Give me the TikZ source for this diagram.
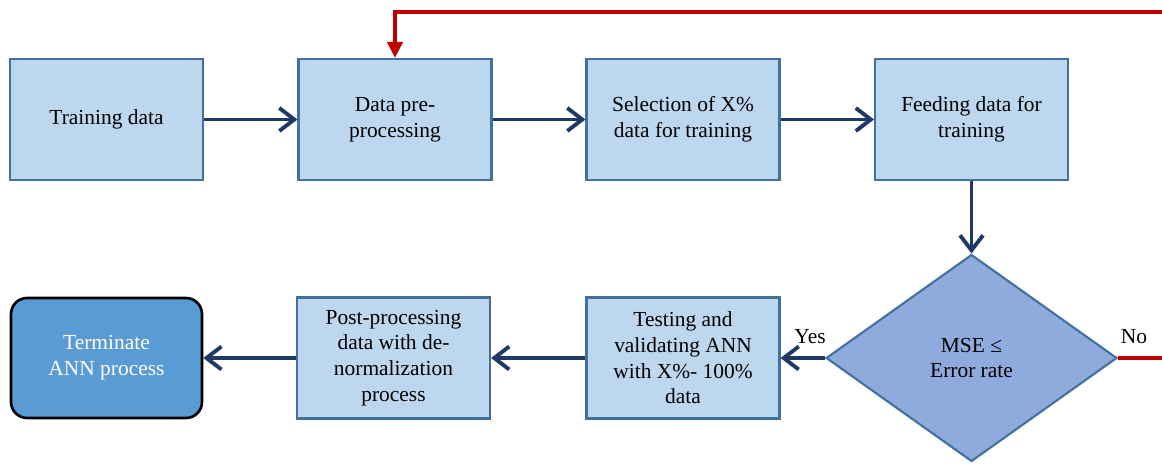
\documentclass[tikz,border=0pt]{standalone}
\usepackage{fontspec}
\setmainfont{Liberation Serif}
\newfontfamily\flowfont{Liberation Serif}
\usetikzlibrary{arrows.meta,shapes.geometric}
\definecolor{boxfill}{HTML}{BDD7EE}
\definecolor{boxline}{HTML}{41719C}
\definecolor{diafill}{HTML}{8FAADC}
\definecolor{endfill}{HTML}{5B9BD5}
\definecolor{flowblue}{HTML}{203864}
\definecolor{loopred}{HTML}{C00000}
\tikzset{
  stepbox/.style={draw=boxline, fill=boxfill, line width=1.2pt, minimum width=3.86cm, minimum height=2.42cm, inner sep=0pt, align=center, font=\flowfont\fontsize{12.2}{14.6}\selectfont},
  checkbox/.style={diamond, draw=boxline, fill=diafill, line width=1.2pt, minimum width=5.82cm, minimum height=4.14cm, inner sep=0pt, align=center, font=\flowfont\fontsize{12.2}{14.6}\selectfont},
  stopbox/.style={draw=black, fill=endfill, rounded corners=0.32cm, line width=1.5pt, minimum width=3.82cm, minimum height=2.4cm, align=center, text=white, font=\flowfont\fontsize{12.2}{14.6}\selectfont},
  flowarrow/.style={draw=flowblue, line width=2.2pt, -{Straight Barb[length=0.3cm,width=0.46cm,line width=2.2pt]}},
  looparrow/.style={draw=loopred, line width=2.2pt, -{Triangle[length=0.32cm,width=0.3cm]}},
  tag/.style={font=\flowfont\fontsize{12.2}{14.6}\selectfont}
}

\begin{document}
\begin{tikzpicture}[x=0.02cm, y=-0.02cm]
	%%%%% START %%%%%
	\useasboundingbox (0, 0) rectangle (1162, 463);
	\clip (0, 0) rectangle (1162, 463);
	
	% top row
	\node[stepbox] (train) at (106.5, 119.5) {Training data};
	\node[stepbox] (prep) at (395, 119.5) {Data pre-\\processing};
	\node[stepbox] (select) at (683, 119.5) {Selection of X\%\\data for training};
	\node[stepbox] (feed) at (971.5, 119.5) {Feeding data for\\training};
	
	% bottom row
	\node[checkbox] (mse) at (971.5, 358) {MSE ≤\\Error rate};
	\node[stepbox] (test) at (683, 358) {Testing and\\validating ANN\\with X\%- 100\%\\data};
	\node[stepbox] (post) at (393.5, 358) {Post-processing\\data with de-\\normalization\\process};
	\node[stopbox] (stop) at (106.5, 358) {Terminate\\ANN process};
	
	\node[tag] (yes) at (810, 337) {Yes};
	\node[tag] (no) at (1134, 337) {No};
	
	\draw[flowarrow] (train) -- (prep);
	\draw[flowarrow] (prep) -- (select);
	\draw[flowarrow] (select) -- (feed);
	\draw[flowarrow] (feed) -- (mse);
	\draw[flowarrow] (mse) -- (test);
	\draw[flowarrow] (test) -- (post);
	\draw[flowarrow] (post) -- (stop);
	
	% loop back when the error is too large
	\coordinate (edgelow) at (1172, 358);
	\coordinate (edgetop) at (1172, 12);
	\coordinate (overprep) at (395, 12);
	\draw[looparrow] (mse.east) -- (edgelow) -- (edgetop) -- (overprep) -- (prep.north);
	%%%%% END %%%%%
\end{tikzpicture}
\end{document}
